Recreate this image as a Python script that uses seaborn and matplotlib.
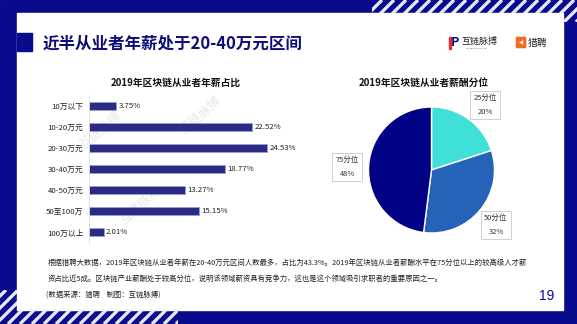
import matplotlib
matplotlib.use("Agg")
import matplotlib.pyplot as plt
import matplotlib.patches as mpatches
import seaborn as sns
import numpy as np
import pandas as pd

# ---------------- data ----------------
categories = ["10万以下", "10-20万元", "20-30万元", "30-40万元", "40-50万元", "50至100万", "100万以上"]
shares = [3.75, 22.52, 24.53, 18.77, 13.27, 15.15, 2.01]
pie_labels = ["25分位", "50分位", "75分位"]
pie_values = [20, 32, 48]

title = "近半从业者年薪处于20-40万元区间"
bar_title = "2019年区块链从业者年薪占比"
pie_title = "2019年区块链从业者薪酬分位"
body1 = "根据猎聘大数据，2019年区块链从业者年薪在20-40万元区间人数最多，占比为43.3%。2019年区块链从业者薪酬水平在75分位以上的较高级人才薪"
body2 = "资占比近5成。区块链产业薪酬处于较高分位，说明该领域薪资具有竞争力，这也是这个领域吸引求职者的重要原因之一。"
source = "(数据来源：猎聘    制图：互链脉搏)"
page = "19"

sns.set_theme(style="white")
plt.rcParams['font.family'] = ['Noto Sans CJK SC', 'DejaVu Sans']

W, H = 577, 324
NAVY = "#0a0a8c"
BAR = "#2b2b86"
fig = plt.figure(figsize=(W / 100, H / 100), dpi=100)

# background axes in pixel coordinates
bg = fig.add_axes([0, 0, 1, 1])
bg.set_xlim(0, W)
bg.set_ylim(H, 0)
bg.axis("off")
bg.add_patch(mpatches.Rectangle((0, 0), W, H, color=NAVY, zorder=0))
bg.add_patch(mpatches.Rectangle((17, 13), 563 - 17, 310 - 13, color="white", zorder=1))
bg.add_patch(mpatches.Rectangle((17, 33), 15, 18, color=NAVY, zorder=2))

# stripes
def stripes(clip_poly, xs, y0, y1):
    clip = mpatches.Polygon(clip_poly, closed=True, transform=bg.transData, fill=False, lw=0)
    bg.add_patch(clip)
    for x in xs:
        ln, = bg.plot([x, x + (y1 - y0)], [y1, y0], color="#e8e8f4", lw=2.4, zorder=3,
                      solid_capstyle="butt")
        ln.set_clip_path(clip)

stripes([(372, 0), (577, 0), (577, 22), (563, 22), (563, 13), (372, 13)],
        np.arange(360, 600, 12), 0, 22)
stripes([(0, 290), (17, 290), (17, 310), (178, 310), (178, 324), (0, 324)],
        np.arange(-40, 200, 12), 290, 324)

# title
bg.text(43, 44, title, fontsize=11.9, fontweight="bold", color="#0d0d7a", va="center", ha="left", zorder=5)

# logos
bg.text(451, 43, "P", fontsize=9, fontweight="bold", color=NAVY, va="center", ha="left", zorder=5)
bg.add_patch(mpatches.Rectangle((449, 37), 1.5, 12, color="#e03030", zorder=5))
bg.text(461, 41, "互链脉搏", fontsize=6.5, color="#222222", va="center", ha="left", zorder=5)
bg.text(476, 48.5, "INTERCHAIN PULSE", fontsize=1.6, color="#555555", va="center", ha="center", zorder=5)
bg.add_patch(mpatches.FancyBboxPatch((517, 38), 8, 9, boxstyle="round,pad=0.6", color="#f36b21", zorder=5))
bg.text(521, 42.8, "◀", fontsize=4, color="white", va="center", ha="center", zorder=6,
        family=['DejaVu Sans'])
bg.text(528, 43, "猎聘", fontsize=7, color="#222222", va="center", ha="left", zorder=5)

# watermarks
for (x, y) in [(100, 130), (200, 115), (140, 205), (418, 155), (452, 212)]:
    bg.text(x, y, "互链脉搏", fontsize=9, color="#e8e8ec", rotation=40, va="center",
            ha="center", zorder=2)

# chart titles
bg.text(176, 83, bar_title, fontsize=7, fontweight="bold", color="#111111", ha="center", va="center", zorder=5)
bg.text(424, 83, pie_title, fontsize=7, fontweight="bold", color="#111111", ha="center", va="center", zorder=5)

# ---------------- bar chart ----------------
x0, x1 = 89, 89 + 30 * 7.25
ytop, ybot = 95, 243
axb = fig.add_axes([x0 / W, 1 - ybot / H, (x1 - x0) / W, (ybot - ytop) / H])
axb.patch.set_alpha(0)
df = pd.DataFrame({"cat": categories, "val": shares})
sns.barplot(data=df, x="val", y="cat", orient="h", color=BAR, saturation=1,
            width=0.38, edgecolor="#9a9ad8", linewidth=0.6, ax=axb)
axb.set_xlim(0, 30)
axb.set_ylim(6.5, -0.5)
axb.set_xlabel("")
axb.set_ylabel("")
axb.set_xticks([])
for s in ["top", "right", "bottom"]:
    axb.spines[s].set_visible(False)
axb.spines["left"].set_color("#dddddd")
axb.spines["left"].set_linewidth(0.6)
axb.tick_params(axis="y", labelsize=5.6, length=0, pad=4, colors="#222222")
for i, v in enumerate(shares):
    axb.text(v + 0.35, i, f"{v:.2f}%", fontsize=5.6, va="center", ha="left", color="#222222")

# ---------------- pie chart ----------------
cx, cy, r = 431.5, 170, 63
axp = fig.add_axes([(cx - r) / W, 1 - (cy + r) / H, 2 * r / W, 2 * r / H])
axp.pie(pie_values, startangle=90, counterclock=False,
        colors=["#3ee0d8", "#2563b8", "#010185"],
        wedgeprops=dict(edgecolor="white", linewidth=1.0))
axp.set_xlim(-1, 1)
axp.set_ylim(-1, 1)
axp.set_aspect("auto")

box = dict(boxstyle="square,pad=0.45", fc="white", ec="#c8c8c8", lw=0.6)
label_pos = [(485, 105), (496, 225), (347, 167)]
for (lx, ly), name, v in zip(label_pos, pie_labels, pie_values):
    bg.text(lx, ly, f"{name}\n{v}%", fontsize=5.4, color="#333333", ha="center", va="center",
            linespacing=1.9, bbox=box, zorder=10)

# ---------------- body text ----------------
bg.text(48, 263, body1, fontsize=5.3, color="#222222", ha="left", va="center", zorder=5)
bg.text(48, 279, body2, fontsize=5.3, color="#222222", ha="left", va="center", zorder=5)
bg.text(46, 295, source, fontsize=5.3, color="#222222", ha="left", va="center", zorder=5)
bg.text(547, 296, page, fontsize=10, color=NAVY, ha="center", va="center", zorder=5,
        family=['Liberation Sans', 'DejaVu Sans'])

fig.savefig("out.png", dpi=100)
